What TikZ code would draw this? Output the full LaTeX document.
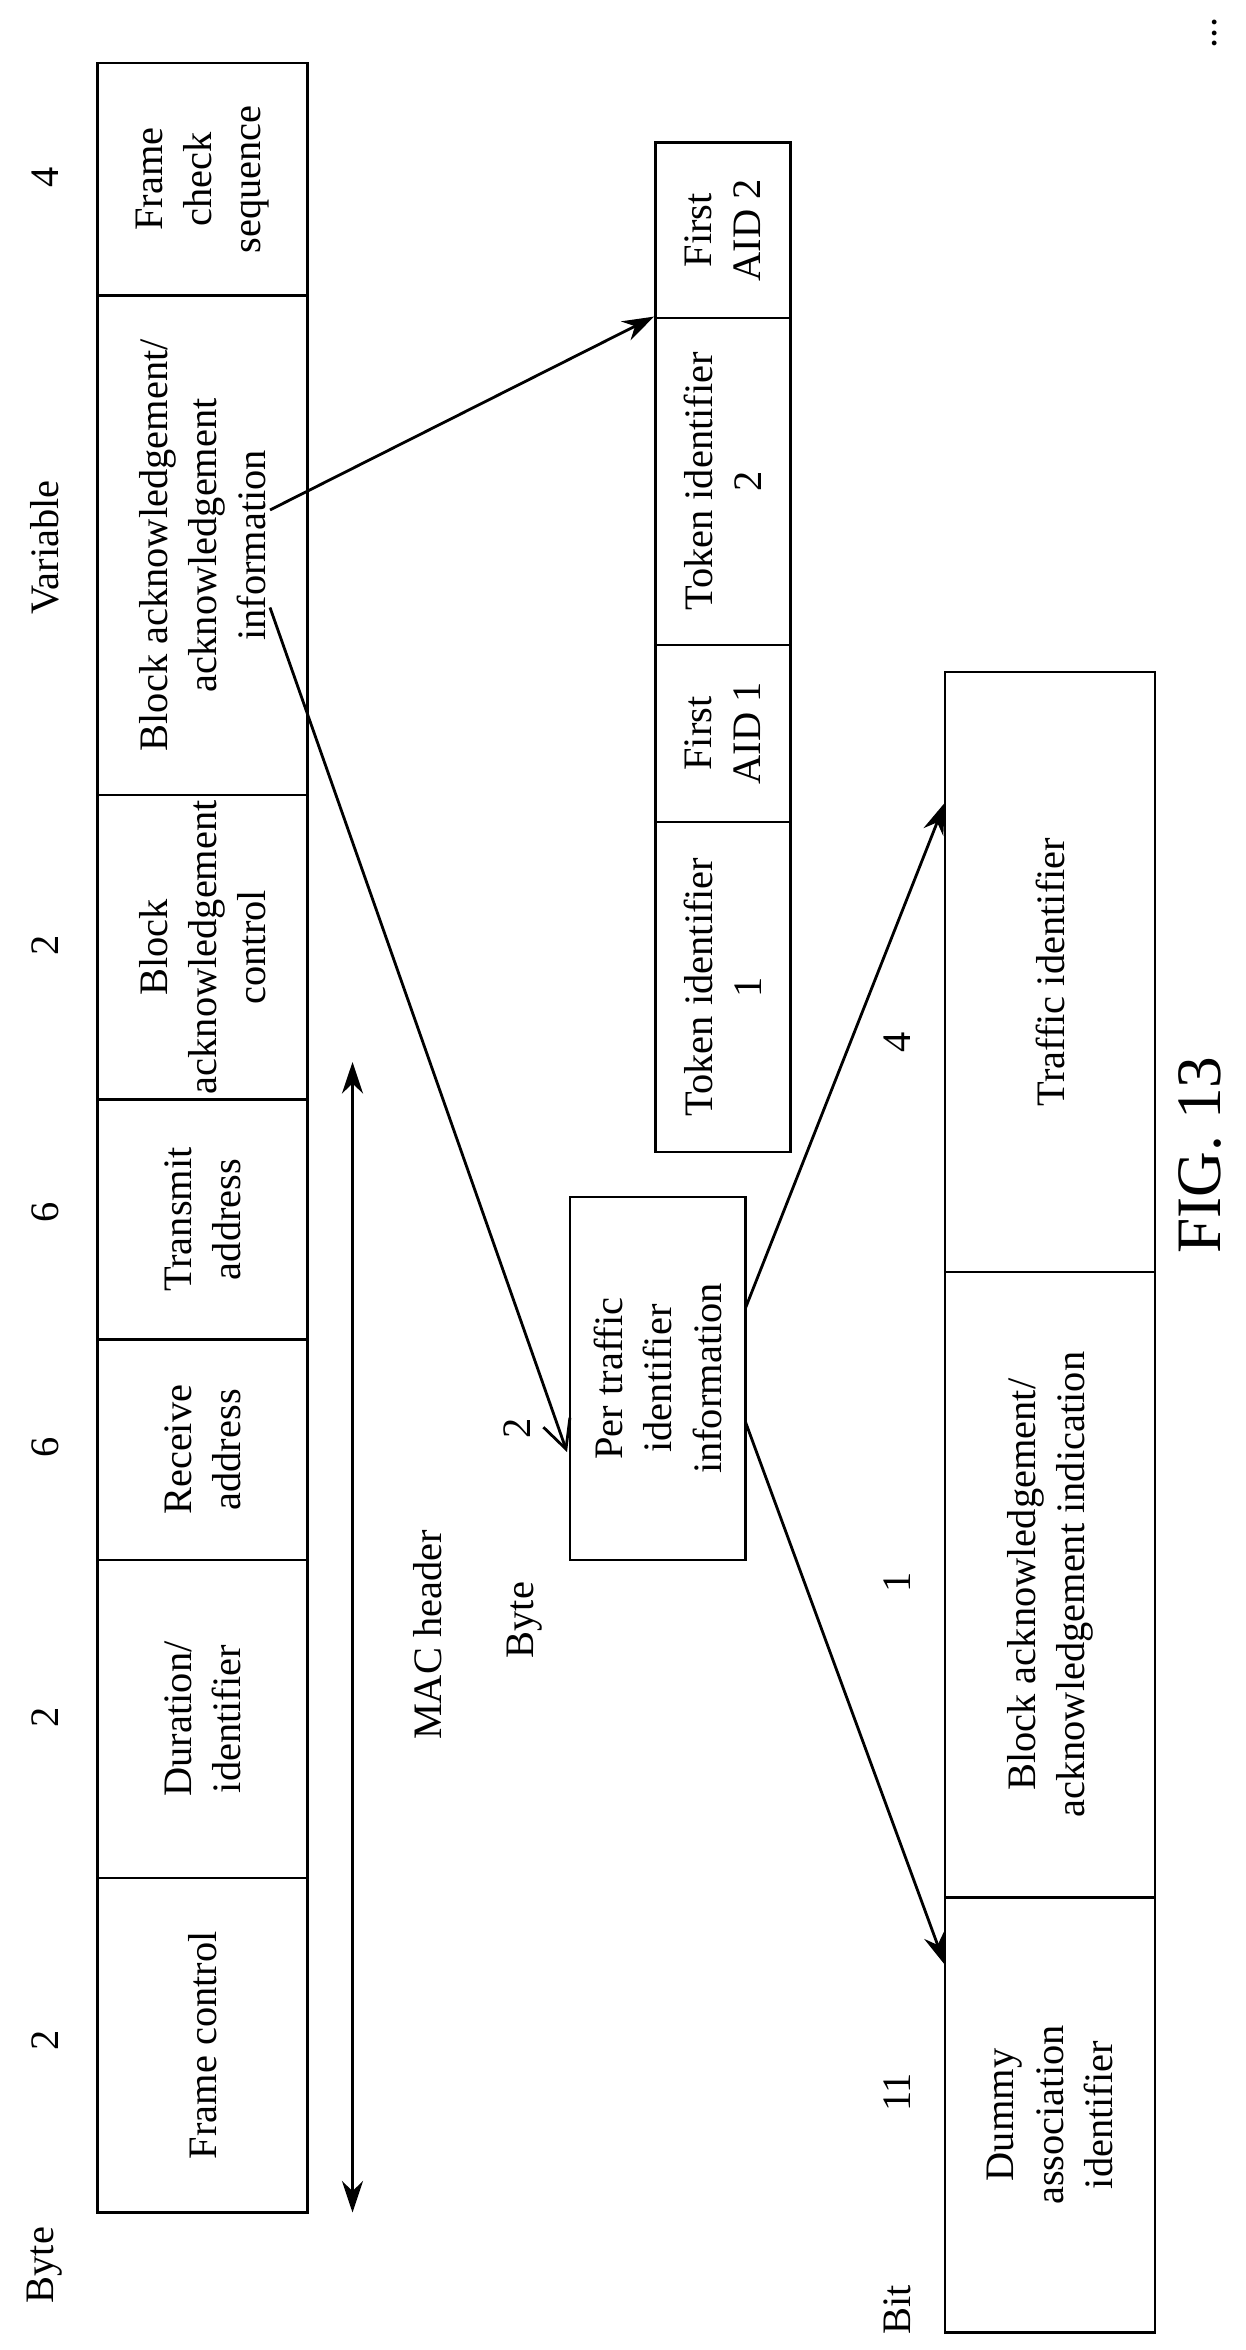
\documentclass[tikz,border=0pt]{standalone}
\usepackage{fontspec}
\setmainfont{Liberation Serif}
\usetikzlibrary{arrows.meta}
\tikzset{
  fld/.style={draw, thick, rotate=90, align=center, inner sep=1pt,
    font=\fontsize{11.5}{14}\selectfont},
  lbl/.style={rotate=90, font=\fontsize{11.5}{14}\selectfont},
  arr/.style={-{Stealth[length=9pt,width=6pt]}, thick}
}
\begin{document}
\begin{tikzpicture}[x=0.15mm, y=-0.15mm]
  \useasboundingbox (0,0) rectangle (830.67,1566.67);
  % frame fields
  \node[fld, minimum width={(197-42)*0.15mm}, minimum height={140*0.15mm}] (fcs) at (135,119.5) {Frame\\check\\sequence};
  \node[fld, minimum width={(530-197)*0.15mm}, minimum height={140*0.15mm}] (info) at (135,363.5) {Block acknowledgement/\\acknowledgement\\information};
  \node[fld, minimum width={(733-530)*0.15mm}, minimum height={140*0.15mm}] (ctrl) at (135,631.5) {Block\\acknowledgement\\control};
  \node[fld, minimum width={(893-733)*0.15mm}, minimum height={140*0.15mm}] (ta) at (135,813) {Transmit\\address};
  \node[fld, minimum width={(1040-893)*0.15mm}, minimum height={140*0.15mm}] (ra) at (135,966.5) {Receive\\address};
  \node[fld, minimum width={(1252-1040)*0.15mm}, minimum height={140*0.15mm}] (dur) at (135,1146) {Duration/\\identifier};
  \node[fld, minimum width={(1475-1252)*0.15mm}, minimum height={140*0.15mm}] (fc) at (135,1363.5) {Frame control};
  % byte counts
  \node[lbl] (n1) at (30,118) {4};
  \node[lbl] (n2) at (30,365) {Variable};
  \node[lbl] (n3) at (30,630) {2};
  \node[lbl] (n4) at (30,808) {6};
  \node[lbl] (n5) at (30,965) {6};
  \node[lbl] (n6) at (30,1145) {2};
  \node[lbl] (n7) at (30,1360) {2};
  \node[lbl] (byte) at (30,1510) {Byte};
  % MAC header span
  \coordinate (mtop) at (235,708);
  \coordinate (mbot) at (235,1475);
  \draw[{Stealth[length=9pt,width=6pt]}-{Stealth[length=9pt,width=6pt]}, thick] (mtop) -- (mbot);
  \node[lbl] (mac) at (285,1090) {MAC header};
  % token / AID fields
  \node[fld, minimum width={(212-95)*0.15mm}, minimum height={90*0.15mm}] (aid2) at (482,153.5) {First\\AID 2};
  \node[fld, minimum width={(430-212)*0.15mm}, minimum height={90*0.15mm}] (tok2) at (482,321) {Token identifier\\2};
  \node[fld, minimum width={(548-430)*0.15mm}, minimum height={90*0.15mm}] (aid1) at (482,489) {First\\AID 1};
  \node[fld, minimum width={(768-548)*0.15mm}, minimum height={90*0.15mm}] (tok1) at (482,658) {Token identifier\\1};
  % per traffic identifier information
  \node[fld, minimum width={(1040-798)*0.15mm}, minimum height={117*0.15mm}] (ptid) at (438.5,919) {Per traffic\\identifier\\information};
  \node[lbl] (byte2) at (350,1080) {Byte};
  \node[lbl] (two) at (345,952) {2};
  % bit fields
  \node[fld, minimum width={(848-448)*0.15mm}, minimum height={140*0.15mm}] (tid) at (700,648) {Traffic identifier};
  \node[fld, minimum width={(1265-848)*0.15mm}, minimum height={140*0.15mm}] (ind) at (700,1056.5) {Block acknowledgement/\\acknowledgement indication};
  \node[fld, minimum width={(1555-1265)*0.15mm}, minimum height={140*0.15mm}] (dummy) at (700,1410) {Dummy\\association\\identifier};
  \node[lbl] (b1) at (598,695) {4};
  \node[lbl] (b2) at (598,1055) {1};
  \node[lbl] (b3) at (598,1395) {11};
  \node[lbl] (bit) at (598,1540) {Bit};
  % arrows
  \coordinate (s1) at (180,340);
  \coordinate (s2) at (180,405);
  \coordinate (s3) at (497,872);
  \coordinate (s4) at (497,948);
  \draw[arr] (s1) -- (tok2.north east);
  \draw[-{Straight Barb[length=8pt,width=8pt]}, thick] (s2) -- (378,968);
  \draw[arr] (s3) -- (630,535);
  \draw[arr] (s4) -- (630,1310);
  \node[lbl, font=\fontsize{18}{20}\selectfont] (fig) at (800,770) {FIG. 13};
  \node[lbl] (dots) at (810,22) {...};
\end{tikzpicture}
\end{document}
